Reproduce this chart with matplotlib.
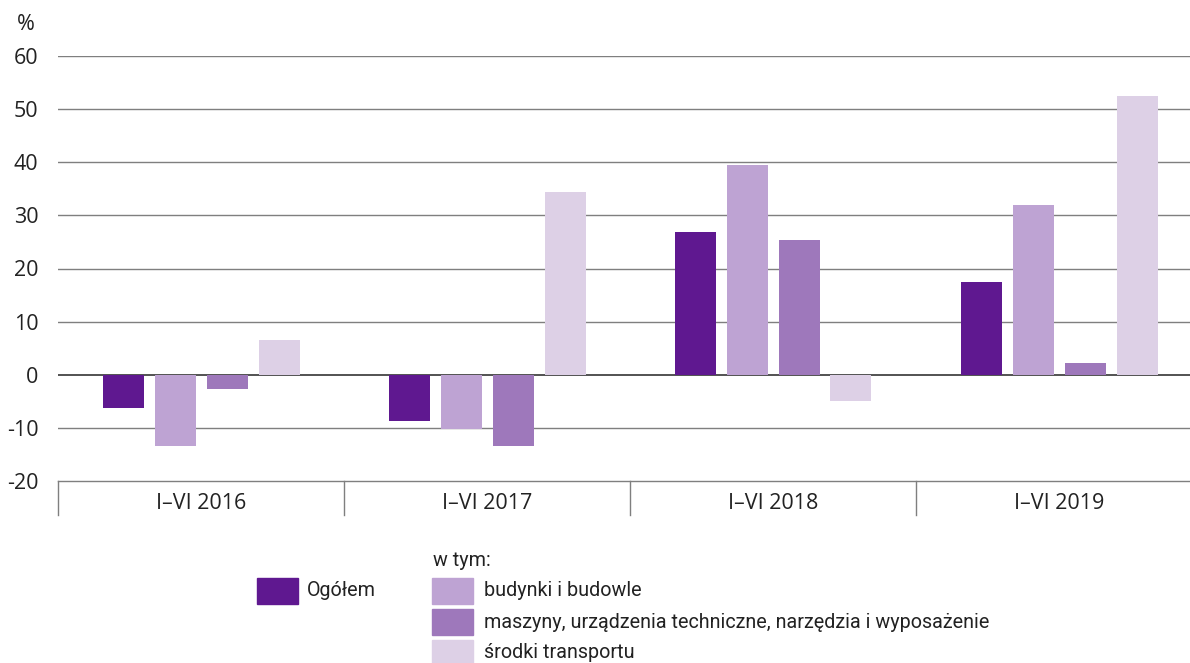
import matplotlib
matplotlib.use("Agg")
import matplotlib.pyplot as plt
from matplotlib.patches import Rectangle
import numpy as np

categories = ["I–VI 2016", "I–VI 2017", "I–VI 2018", "I–VI 2019"]
series_names = ["Ogółem", "budynki i budowle",
                "maszyny, urządzenia techniczne, narzędzia i wyposażenie",
                "środki transportu"]
ogolem = [-6.2, -8.7, 26.9, 17.5]
budynki = [-13.4, -10.3, 39.5, 32.0]
maszyny = [-2.6, -13.4, 25.4, 2.3]
srodki = [6.6, 34.4, -5.0, 52.4]
colors = ["#5f1890", "#bea3d3", "#9e78bb", "#ddd0e6"]
yticks = [-20, -10, 0, 10, 20, 30, 40, 50, 60]

W, H = 1190, 663
fig = plt.figure(figsize=(W / 100, H / 100), dpi=100)
ax = fig.add_axes([58 / W, 1 - 481 / H, (4 * 286) / W, (481 - 56) / H])

font_ticks = ["Open Sans", "DejaVu Sans"]
font_leg = ["Roboto", "DejaVu Sans"]

x = np.arange(len(categories))
step = 52 / 286
width = 41 / 286
all_series = [ogolem, budynki, maszyny, srodki]
for i, (vals, c) in enumerate(zip(all_series, colors)):
    ax.bar(x + (i - 1.5) * step, vals, width=width, color=c, zorder=3)

ax.set_xlim(-0.5, len(categories) - 0.5)
ax.set_ylim(-20, 60)
ax.set_yticks(yticks)
ax.set_yticklabels([str(t) for t in yticks], family=font_ticks, fontsize=15.5, color="#222222")
for t in yticks:
    if t == -20:
        continue
    ax.axhline(t, color="#444444" if t == 0 else "#7f7f7f", lw=1.0 if t != 0 else 1.3, zorder=1)
ax.tick_params(axis="y", length=0, pad=14)
ax.tick_params(axis="x", length=0)
ax.set_xticks([])
for s in ["top", "right", "left"]:
    ax.spines[s].set_visible(False)
ax.spines["bottom"].set_color("#7f7f7f")
ax.spines["bottom"].set_linewidth(1.0)

# category separators and labels below axis
for k in range(len(categories) + 1):
    xx = k - 0.5
    ax.plot([xx, xx], [0, -0.08], transform=ax.get_xaxis_transform(), color="#7f7f7f",
            lw=1.0, clip_on=False)
for k, cat in enumerate(categories):
    ax.text(k, -0.052, cat, transform=ax.get_xaxis_transform(), ha="center", va="center",
            family=font_ticks, fontsize=15.5, color="#222222")

fig.text(26 / W, 1 - 24 / H, "%", ha="center", va="center", family=font_ticks,
         fontsize=15.5, color="#222222")

def fig_rect(x0, y0, w, h, color):
    fig.patches.append(Rectangle((x0 / W, 1 - (y0 + h) / H), w / W, h / H,
                                 transform=fig.transFigure, color=color, figure=fig))

# legend
fig_rect(257, 578, 41, 26, colors[0])
fig.text(307 / W, 1 - 591 / H, series_names[0], ha="left", va="center",
         family=font_leg, fontsize=14.2, color="#222222")
fig.text(433 / W, 1 - 561 / H, "w tym:", ha="left", va="center",
         family=font_leg, fontsize=14.2, color="#222222")
rows = [591, 622, 653]
for i, yc in enumerate(rows):
    fig_rect(432, yc - 13, 41, 26, colors[i + 1])
    fig.text(484 / W, 1 - yc / H, series_names[i + 1], ha="left", va="center",
             family=font_leg, fontsize=14.2, color="#222222")

fig.savefig("out.png", dpi=100)
